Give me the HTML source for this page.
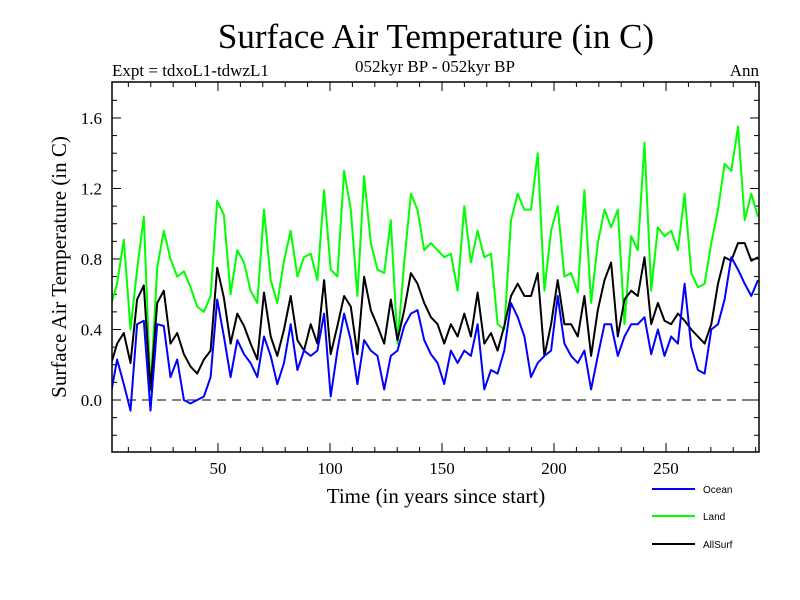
<!DOCTYPE html>
<html><head><meta charset="utf-8"><style>
body{margin:0;background:#fff}
svg{display:block;font-family:"Liberation Serif",serif}
</style></head><body>
<svg id="chart" width="800" height="600">
<text x="436" y="48" font-size="35" text-anchor="middle">Surface Air Temperature (in C)</text>
<text x="112" y="76" font-size="17">Expt = tdxoL1-tdwzL1</text>
<text x="435" y="72" font-size="17" text-anchor="middle">052kyr BP - 052kyr BP</text>
<text x="759" y="76" font-size="17" text-anchor="end">Ann</text>
<text x="436" y="503" font-size="21" text-anchor="middle">Time (in years since start)</text>
<text transform="translate(66,267) rotate(-90)" font-size="21" text-anchor="middle">Surface Air Temperature (in C)</text>
<defs><clipPath id="clip"><rect x="112" y="82" width="647" height="370"/></clipPath></defs>
<g id="axes"></g>
<g id="series" clip-path="url(#clip)"></g>
<rect x="112" y="82" width="647" height="370" fill="none" stroke="#000" stroke-width="1.5"/>
<g font-family="Liberation Sans,sans-serif" font-size="10">
 <g><line x1="652" y1="489" x2="695" y2="489" stroke="#0000ff" stroke-width="2"/><text x="703" y="493">Ocean</text></g>
 <g><line x1="652" y1="516" x2="695" y2="516" stroke="#00ff00" stroke-width="2"/><text x="703" y="520">Land</text></g>
 <g><line x1="652" y1="544" x2="695" y2="544" stroke="#000" stroke-width="2"/><text x="703" y="548">AllSurf</text></g>
</g>
</svg>
<script>
const xTicks=[50,100,150,200,250];
const yTicks=[0.0,0.4,0.8,1.2,1.6];
const yTickLabels=["0.0","0.4","0.8","1.2","1.6"];
const yearStart=2, yearStep=2.98;
const land=[0.53,0.66,0.91,0.40,0.74,1.04,0.05,0.75,0.96,0.80,0.70,0.73,0.64,0.53,0.50,0.59,1.13,1.05,0.60,0.85,0.78,0.62,0.55,1.08,
0.68,0.55,0.79,0.96,0.70,0.81,0.83,0.68,1.19,0.74,0.70,1.30,1.08,0.59,1.27,0.89,0.74,0.72,1.02,0.32,0.78,1.17,1.08,0.85,
0.89,0.85,0.81,0.83,0.62,1.10,0.78,0.96,0.81,0.83,0.43,0.40,1.02,1.17,1.08,1.08,1.40,0.62,0.96,1.10,0.70,0.72,0.61,1.19,
0.55,0.89,1.08,0.98,1.08,0.43,0.93,0.85,1.46,0.62,0.98,0.93,0.96,0.85,1.17,0.72,0.64,0.66,0.89,1.08,1.34,1.30,1.55,1.02,1.17,1.04];
const allSurf=[0.19,0.32,0.38,0.21,0.57,0.65,0.06,0.55,0.62,0.32,0.38,0.26,0.19,0.15,0.23,0.28,0.75,0.58,0.32,0.49,0.42,0.32,0.23,0.61,
0.36,0.25,0.40,0.59,0.34,0.28,0.43,0.32,0.68,0.26,0.42,0.59,0.53,0.26,0.70,0.51,0.42,0.32,0.57,0.34,0.51,0.72,0.66,0.55,
0.47,0.43,0.32,0.43,0.36,0.49,0.36,0.61,0.32,0.38,0.28,0.42,0.59,0.66,0.59,0.59,0.72,0.25,0.43,0.68,0.43,0.43,0.36,0.59,
0.25,0.51,0.68,0.78,0.36,0.57,0.62,0.59,0.81,0.43,0.55,0.45,0.43,0.49,0.45,0.40,0.36,0.32,0.43,0.66,0.81,0.79,0.89,0.89,0.79,0.81];
const ocean=[0.02,0.23,0.09,-0.06,0.43,0.45,-0.06,0.43,0.42,0.13,0.23,0.0,-0.02,0.0,0.02,0.13,0.57,0.36,0.13,0.34,0.26,0.21,0.13,0.36,
0.25,0.09,0.21,0.43,0.17,0.28,0.25,0.28,0.49,0.02,0.28,0.49,0.34,0.09,0.34,0.28,0.25,0.06,0.25,0.28,0.42,0.49,0.51,0.34,
0.26,0.21,0.09,0.28,0.21,0.28,0.25,0.43,0.06,0.17,0.15,0.28,0.55,0.47,0.36,0.13,0.21,0.25,0.28,0.59,0.32,0.25,0.21,0.28,
0.06,0.25,0.43,0.43,0.25,0.36,0.43,0.43,0.47,0.26,0.40,0.25,0.36,0.32,0.66,0.30,0.17,0.15,0.40,0.43,0.57,0.81,0.74,0.66,0.59,0.68];
const years=land.map((_,k)=>yearStart+yearStep*k);

const NS="http://www.w3.org/2000/svg";
const X0=112,X1=759,Y0=82,Y1=452;
const xMin=2.7,xMax=291.5,yMin=-0.295,yMax=1.804;
const sx=v=>X0+(v-xMin)/(xMax-xMin)*(X1-X0);
const sy=v=>Y1-(v-yMin)/(yMax-yMin)*(Y1-Y0);
function mk(tag,attrs,parent){const e=document.createElementNS(NS,tag);for(const k in attrs)e.setAttribute(k,attrs[k]);parent.appendChild(e);return e;}
const axes=document.getElementById('axes');
for(let i=-2;i<=17;i++){const v=i/10;const y=sy(v);const major=(i%4===0);const L=major?9:5;
 const t1=mk('line',{x1:X0,x2:X0+L,y1:y,y2:y,stroke:'#000','stroke-width':1},axes);
 
 
 const t2=mk('line',{x1:X1,x2:X1-L,y1:y,y2:y,stroke:'#000','stroke-width':1},axes);
 
 }
yTicks.forEach((v,i)=>{const t=mk('text',{x:X0-10,y:sy(v)+6,'font-size':17,'text-anchor':'end'},axes);t.textContent=yTickLabels[i];
 
 });
for(let v=10;v<=290;v+=10){const x=sx(v);const L=(v%50===0)?9:5;
 const t1=mk('line',{x1:x,x2:x,y1:Y1,y2:Y1-L,stroke:'#000','stroke-width':1},axes);
 
 
 const t2=mk('line',{x1:x,x2:x,y1:Y0,y2:Y0+L,stroke:'#000','stroke-width':1},axes);
 
 }
xTicks.forEach(v=>{const t=mk('text',{x:sx(v),y:Y1+22,'font-size':17,'text-anchor':'middle'},axes);t.textContent=String(v);
 
 });
const zl=mk('line',{x1:X0,x2:X1,y1:sy(0),y2:sy(0),stroke:'#000','stroke-width':1,'stroke-dasharray':'9,6'},axes);


const g=document.getElementById('series');
function draw(vals,color,name){const d=vals.map((v,i)=>(i?'L':'M')+sx(years[i]).toFixed(1)+','+sy(v).toFixed(1)).join('');
 const p=mk('path',{d:d,fill:'none',stroke:color,'stroke-width':2,'stroke-linejoin':'round'},g);
 
 }
draw(land,'#00ff00','land-line');
draw(allSurf,'#000000','allsurf-line');
draw(ocean,'#0000ff','ocean-line');
</script>
</body></html>
